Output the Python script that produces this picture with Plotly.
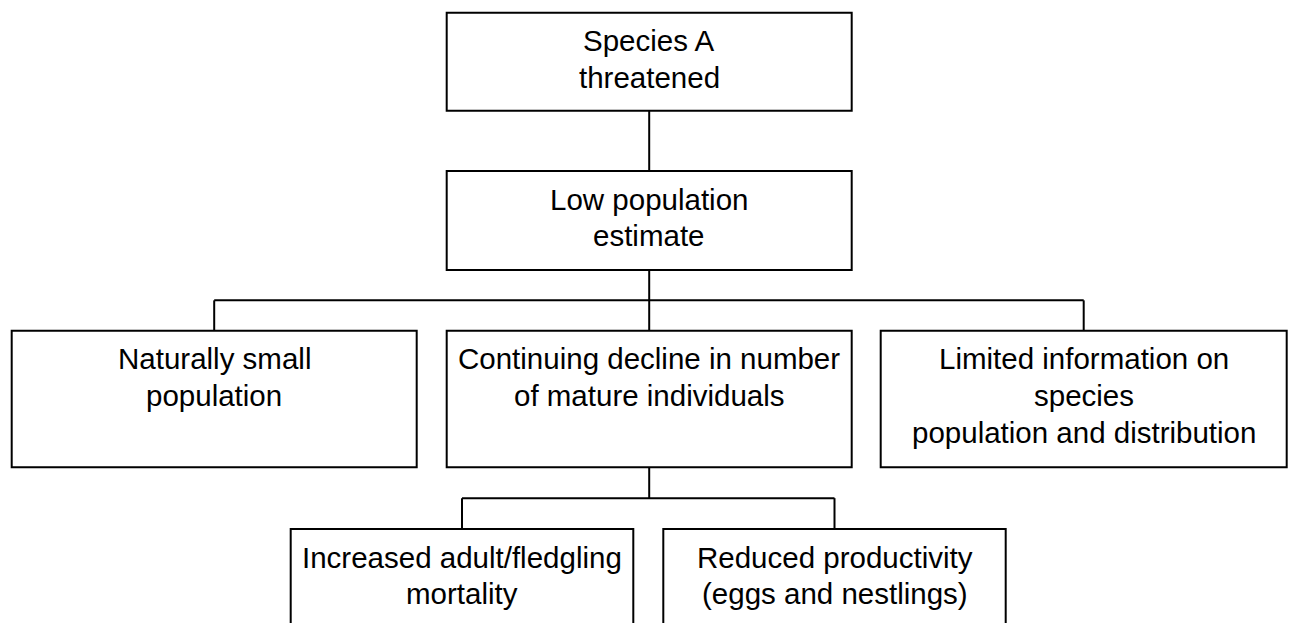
import plotly.graph_objects as go

# ---- data: the tree of the flow chart ----
labels = [
    "Species A<br>threatened",
    "Low population<br>estimate",
    "Naturally small<br>population",
    "Continuing decline in number<br>of mature individuals",
    "Limited information on<br>species<br>population and distribution",
    "Increased adult/fledgling<br>mortality",
    "Reduced productivity<br>(eggs and nestlings)",
]
parents = [None, 0, 1, 1, 1, 3, 3]
levels = [0, 1, 2, 2, 2, 3, 3]

# ---- layout geometry (pixels in a 1290 x 623 canvas) ----
W, H = 1290, 623
level_top = {0: 12.7, 1: 171.0, 2: 330.7, 3: 529.0}
level_bottom = {0: 110.7, 1: 270.0, 2: 467.3, 3: 680.0}
box_x = [
    (446.7, 851.7),
    (446.7, 851.7),
    (11.7, 416.7),
    (446.7, 851.7),
    (880.7, 1286.7),
    (290.7, 633.3),
    (663.3, 1005.7),
]
FSIZE = 29.5
FONT = dict(family="Arial, Liberation Sans, sans-serif", size=FSIZE, color="black")
LINE = dict(color="black", width=2)
FIRST_BASELINE = 41.5   # below box top
LINE_STEP = 36.7        # baseline-to-baseline
ASCENT = 1.05 * FSIZE   # annotation top to baseline

fig = go.Figure()
shapes = []
annotations = []

for i, lab in enumerate(labels):
    x0, x1 = box_x[i]
    lv = levels[i]
    y0, y1 = level_top[lv], level_bottom[lv]
    shapes.append(dict(type="rect", xref="x", yref="y", x0=x0, x1=x1, y0=y0, y1=y1,
                       line=LINE, fillcolor="white", layer="above"))
    for k, part in enumerate(lab.split("<br>")):
        base = y0 + FIRST_BASELINE + k * LINE_STEP
        annotations.append(dict(x=(x0 + x1) / 2, y=base - ASCENT, xref="x", yref="y",
                                text=part, showarrow=False, xanchor="center", yanchor="top",
                                align="center", font=FONT, borderpad=0))

# connectors (elbow style)
for p in range(len(labels)):
    kids = [c for c, pp in enumerate(parents) if pp == p]
    if not kids:
        continue
    px = sum(box_x[p]) / 2
    pb = level_bottom[levels[p]]
    ct = level_top[levels[kids[0]]]
    if len(kids) == 1:
        fig.add_trace(go.Scatter(x=[px, px], y=[pb, ct], mode="lines", line=LINE,
                                 hoverinfo="skip", showlegend=False))
        continue
    mid = (pb + ct) / 2
    cxs = [sum(box_x[c]) / 2 for c in kids]
    fig.add_trace(go.Scatter(x=[px, px], y=[pb, mid], mode="lines", line=LINE,
                             hoverinfo="skip", showlegend=False))
    fig.add_trace(go.Scatter(x=[min(cxs), max(cxs)], y=[mid, mid], mode="lines", line=LINE,
                             hoverinfo="skip", showlegend=False))
    for cx in cxs:
        fig.add_trace(go.Scatter(x=[cx, cx], y=[mid, ct], mode="lines", line=LINE,
                                 hoverinfo="skip", showlegend=False))

fig.update_layout(
    width=W, height=H,
    margin=dict(l=0, r=0, t=0, b=0),
    paper_bgcolor="white", plot_bgcolor="white",
    shapes=shapes, annotations=annotations,
    xaxis=dict(range=[0, W], visible=False, fixedrange=True),
    yaxis=dict(range=[H, 0], visible=False, fixedrange=True),
    showlegend=False,
)

fig.write_html(
    "out.html",
    config={"displayModeBar": False},
    post_script="document.body.style.margin='0';document.body.style.overflow='hidden';",
)
